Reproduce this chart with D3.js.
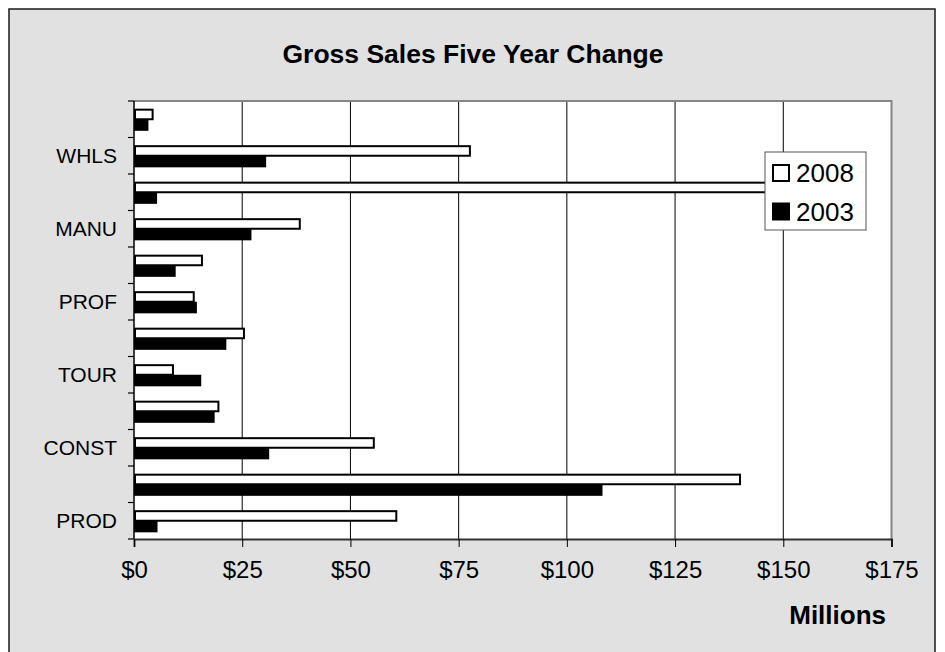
<!DOCTYPE html>
<html>
<head>
<meta charset="utf-8">
<style>
  body { margin: 0; background: #fff; }
  text { font-family: Arial, "Liberation Sans", sans-serif; fill: #000; }
</style>
</head>
<body>
<svg width="945" height="652"></svg>
<script src="https://cdn.jsdelivr.net/npm/d3@7"></script>
<script>

// categories listed bottom to top, only every other one gets a label
var categories = ["PROD", "", "CONST", "", "TOUR", "", "PROF", "", "MANU", "", "WHLS", ""];
var series = ["2008", "2003"];
var sales2008 = [60.6, 140, 55.4, 19.5, 9.0, 25.4, 13.8, 15.7, 38.3, 160, 77.6, 4.3];
var sales2003 = [5.2, 108, 31.0, 18.4, 15.3, 21.1, 14.3, 9.4, 26.9, 5.1, 30.3, 3.1];
var xTicks = [0, 25, 50, 75, 100, 125, 150, 175];

var svg = d3.select("svg"),
    margin = {top: 101, right: 53.5, bottom: 113, left: 134},
    width = +svg.attr("width") - margin.left - margin.right,
    height = +svg.attr("height") - margin.top - margin.bottom;

// chart frame
svg.append("rect")
    .attr("x", 9).attr("y", 9)
    .attr("width", 926).attr("height", 660)
    .attr("fill", "#e1e1e1")
    .attr("stroke", "#1a1a1a")
    .attr("stroke-width", 1.5);

svg.append("text")
    .attr("x", 473).attr("y", 63)
    .attr("text-anchor", "middle")
    .style("font-size", "26.5px")
    .style("font-weight", "bold")
    .text("Gross Sales Five Year Change");

var g = svg.append("g").attr("transform", "translate(" + margin.left + "," + margin.top + ")");

var x = d3.scaleLinear().domain([0, 175]).range([0, width]);

var y = d3.scaleBand()
    .domain(d3.range(categories.length).reverse())
    .range([0, height])
    .paddingInner(0.42)
    .paddingOuter(0.21);

var y1 = d3.scaleBand().domain(series).range([0, y.bandwidth()]);

var fill = {"2008": "#fff", "2003": "#000"};

g.append("rect")
    .attr("width", width).attr("height", height)
    .attr("fill", "#fff");

g.append("clipPath").attr("id", "plotclip")
  .append("rect").attr("width", width).attr("height", height);

// gridlines
g.selectAll(".grid")
    .data(xTicks.slice(1, -1))
    .enter().append("line")
      .attr("x1", function(d) { return x(d); })
      .attr("x2", function(d) { return x(d); })
      .attr("y1", 0).attr("y2", height)
      .attr("stroke", "#000")
      .attr("stroke-width", 1);

// plot border top / right
g.append("path")
    .attr("d", "M0,0H" + width + "V" + height)
    .attr("fill", "none")
    .attr("stroke", "#858585")
    .attr("stroke-width", 2);

var bars = g.append("g").attr("clip-path", "url(#plotclip)");

var rows = categories.map(function(c, i) {
  return {i: i, "2008": sales2008[i], "2003": sales2003[i]};
});

bars.selectAll(".cat")
    .data(rows)
    .enter().append("g")
      .attr("transform", function(d) { return "translate(0," + y(d.i) + ")"; })
    .selectAll("rect")
    .data(function(d) { return series.map(function(k) { return {key: k, value: d[k]}; }); })
    .enter().append("rect")
      .attr("x", 1)
      .attr("y", function(d) { return y1(d.key) + 1; })
      .attr("width", function(d) { return x(d.value) - 1; })
      .attr("height", y1.bandwidth() - 1)
      .attr("fill", function(d) { return fill[d.key]; })
      .attr("stroke", "#000")
      .attr("stroke-width", 2);

// axes
var yAxis = g.append("g")
    .call(d3.axisLeft(y).tickSize(6).tickFormat(function(i) { return categories[i]; }));
yAxis.select(".domain").remove();
yAxis.selectAll(".tick line").remove();
yAxis.selectAll(".tick text")
    .attr("x", -17)
    .attr("dy", "0.36em")
    .style("font-size", "21px")
    .style("font-family", "Arial, 'Liberation Sans', sans-serif");

// category boundary ticks on the left axis
var bounds = d3.range(categories.length + 1).map(function(k) { return k * height / categories.length; });
g.selectAll(".ytick")
    .data(bounds)
    .enter().append("line")
      .attr("x1", -6).attr("x2", 0)
      .attr("y1", function(d) { return d; })
      .attr("y2", function(d) { return d; })
      .attr("stroke", "#000")
      .attr("stroke-width", 1.2);

g.append("line")
    .attr("x1", 0).attr("x2", 0)
    .attr("y1", 0).attr("y2", height)
    .attr("stroke", "#000").attr("stroke-width", 1.5);

var xAxis = g.append("g")
    .attr("transform", "translate(0," + height + ")")
    .call(d3.axisBottom(x).tickValues(xTicks).tickSize(8).tickPadding(14)
      .tickFormat(function(d) { return "$" + d; }));
xAxis.select(".domain")
    .attr("stroke", "#333")
    .attr("stroke-width", 2);
xAxis.selectAll(".tick line").attr("stroke", "#000");
xAxis.selectAll(".tick text")
    .style("font-size", "24px")
    .style("font-family", "Arial, 'Liberation Sans', sans-serif");

svg.append("text")
    .attr("x", 886).attr("y", 624)
    .attr("text-anchor", "end")
    .style("font-size", "26px")
    .style("font-weight", "bold")
    .text("Millions");

// legend
var legend = svg.append("g").attr("transform", "translate(765,152)");
legend.append("rect")
    .attr("width", 101).attr("height", 78)
    .attr("fill", "#fff")
    .attr("stroke", "#555")
    .attr("stroke-width", 1);

var item = legend.selectAll(".item")
    .data(series)
    .enter().append("g")
      .attr("transform", function(d, i) { return "translate(8," + (13 + i * 38.5) + ")"; });

item.append("rect")
    .attr("width", 16).attr("height", 16)
    .attr("fill", function(d) { return fill[d]; })
    .attr("stroke", "#000")
    .attr("stroke-width", 2);

item.append("text")
    .attr("x", 23).attr("y", 8)
    .attr("dy", "0.36em")
    .style("font-size", "26px")
    .text(function(d) { return d; });

</script>
</body>
</html>
